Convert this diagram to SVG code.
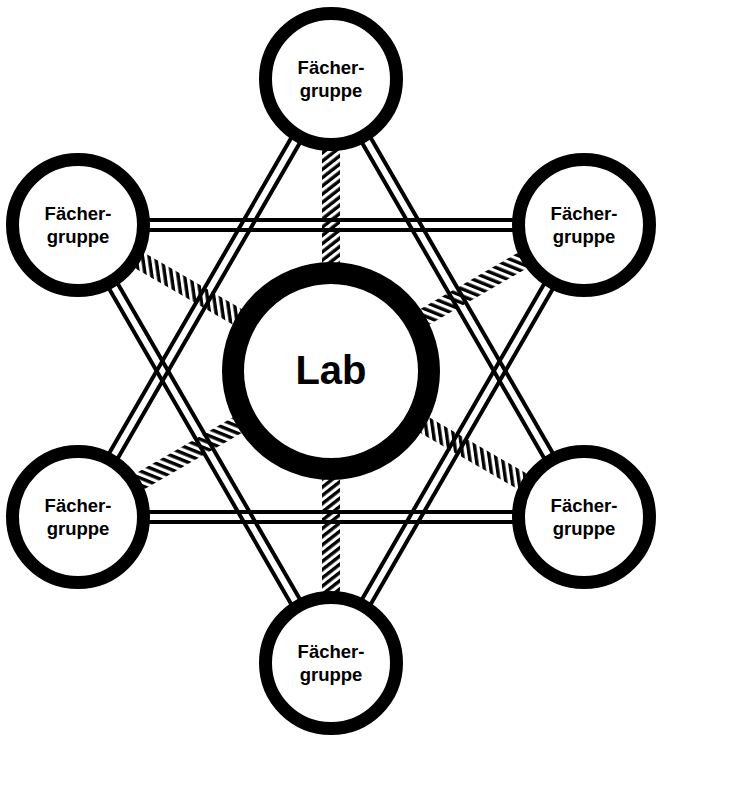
<svg xmlns="http://www.w3.org/2000/svg" width="736" height="796" viewBox="0 0 736 796">
  <style>
    .dl { stroke: #000; stroke-width: 4; fill: none; }
    .node circle { fill: #fff; stroke: #000; stroke-width: 13; }
    .lab circle { fill: #fff; stroke: #000; stroke-width: 22; }
    .t { font-family: "Liberation Sans", Arial, sans-serif; font-weight: bold; font-size: 18.5px; text-anchor: middle; fill: #000; }
    .tl { font-family: "Liberation Sans", Arial, sans-serif; font-weight: bold; font-size: 40px; text-anchor: middle; fill: #000; }
  </style>
  <defs>
    <pattern id="hatch" patternUnits="userSpaceOnUse" width="6.5" height="10" patternTransform="rotate(-38)">
      <rect x="0" y="0" width="3.4" height="10" fill="#000"/>
    </pattern>
  </defs>
  <rect width="736" height="796" fill="#fff"/>
  <g id="connectors">
    <g id="hatched">
      <rect transform="translate(331,371) rotate(-90)" x="0" y="-9" width="292" height="18" fill="url(#hatch)"/>
      <rect transform="translate(331,371) rotate(-30)" x="0" y="-9" width="292" height="18" fill="url(#hatch)"/>
      <rect transform="translate(331,371) rotate(30)" x="0" y="-9" width="292" height="18" fill="url(#hatch)"/>
      <rect transform="translate(331,371) rotate(90)" x="0" y="-9" width="292" height="18" fill="url(#hatch)"/>
      <rect transform="translate(331,371) rotate(150)" x="0" y="-9" width="292" height="18" fill="url(#hatch)"/>
      <rect transform="translate(331,371) rotate(210)" x="0" y="-9" width="292" height="18" fill="url(#hatch)"/>
    </g>
    <g id="double">
      <path class="dl" d="M78,220 H584 M78,230 H584"/>
      <path class="dl" d="M78,512 H584 M78,522 H584"/>
      <path class="dl" d="M335.33,81.5 L82.43,519.5 M326.67,76.5 L73.77,514.5"/>
      <path class="dl" d="M335.33,76.5 L588.23,514.5 M326.67,81.5 L579.57,519.5"/>
      <path class="dl" d="M335.33,660.5 L82.43,222.5 M326.67,665.5 L73.77,227.5"/>
      <path class="dl" d="M335.33,665.5 L588.23,227.5 M326.67,660.5 L579.57,222.5"/>
    </g>
  </g>
  <g id="lab" class="lab">
    <circle cx="331" cy="371" r="98"/>
    <text class="tl" x="331" y="384">Lab</text>
  </g>
  <g id="node-top" class="node">
    <circle cx="331" cy="79" r="65.5"/>
    <text class="t" x="331" y="74">Fächer-</text>
    <text class="t" x="331" y="97">gruppe</text>
  </g>
  <g id="node-top-left" class="node">
    <circle cx="78" cy="225" r="65.5"/>
    <text class="t" x="78" y="220">Fächer-</text>
    <text class="t" x="78" y="243">gruppe</text>
  </g>
  <g id="node-top-right" class="node">
    <circle cx="584" cy="225" r="65.5"/>
    <text class="t" x="584" y="220">Fächer-</text>
    <text class="t" x="584" y="243">gruppe</text>
  </g>
  <g id="node-bottom-left" class="node">
    <circle cx="78" cy="517" r="65.5"/>
    <text class="t" x="78" y="512">Fächer-</text>
    <text class="t" x="78" y="535">gruppe</text>
  </g>
  <g id="node-bottom-right" class="node">
    <circle cx="584" cy="517" r="65.5"/>
    <text class="t" x="584" y="512">Fächer-</text>
    <text class="t" x="584" y="535">gruppe</text>
  </g>
  <g id="node-bottom" class="node">
    <circle cx="331" cy="663" r="65.5"/>
    <text class="t" x="331" y="658">Fächer-</text>
    <text class="t" x="331" y="681">gruppe</text>
  </g>
</svg>
